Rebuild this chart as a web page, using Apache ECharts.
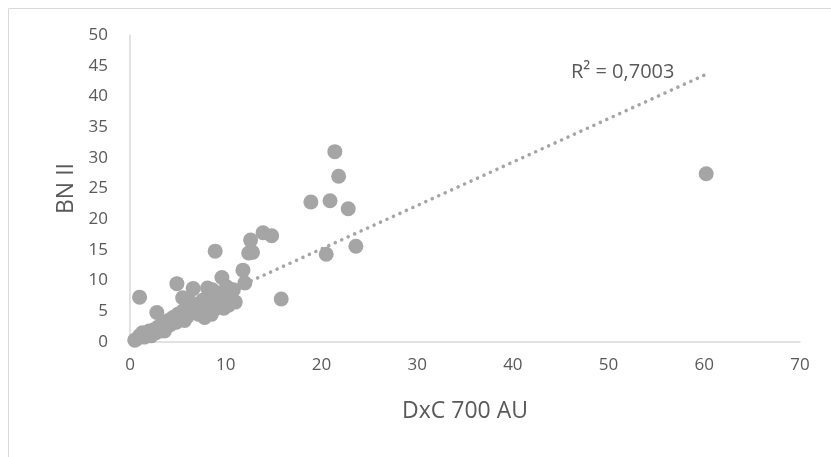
<!DOCTYPE html>
<html>
<head>
<meta charset="utf-8">
<script src="https://cdn.jsdelivr.net/npm/echarts@6/dist/echarts.min.js"></script>
<style>html,body{margin:0;padding:0;background:#fff;}#c{width:831px;height:457px;}</style>
</head>
<body>
<div id="c"></div>
<script>
var xValues = [0.5,0.8,1.0,1.3,1.5,1.8,2.0,2.2,2.5,2.7,3.0,3.2,3.5,3.8,4.0,4.2,4.5,4.8,5.0,5.3,5.5,5.7,6.0,6.2,6.5,6.8,7.0,7.2,7.5,7.8,8.0,8.2,8.5,8.7,9.0,9.2,9.5,9.8,10.0,10.3,10.6,10.8,11.0,
  1.0,2.8,4.9,5.5,6.6,8.1,8.6,9.6,10.1,11.8,12.0,8.9,12.4,12.8,12.6,13.9,14.8,15.8,18.9,20.5,20.9,21.4,21.8,22.8,23.6,60.2,
  7.6,9.4,10.5,6.3,3.6];
var yValues = [0.3,0.6,1.0,1.5,0.8,1.2,1.8,1.0,2.0,1.5,2.5,1.8,3.0,2.5,3.5,2.8,4.0,3.2,4.5,3.8,5.0,3.5,4.2,5.5,4.8,5.2,6.0,4.5,5.5,4.0,6.5,5.0,4.5,6.0,5.5,7.0,6.5,5.5,7.5,6.0,7.0,8.5,6.5,
  7.3,4.8,9.5,7.2,8.7,8.8,8.5,10.5,9.0,11.7,9.6,14.8,14.5,14.6,16.6,17.8,17.3,7.0,22.8,14.3,23.0,31.0,27.0,21.7,15.6,27.4,
  6.8,8.0,8.0,6.5,1.8];
var xTicks = [0,10,20,30,40,50,60,70];
var yTicks = [0,5,10,15,20,25,30,35,40,45,50];
var trendX = [0.5, 60.2];
var trendY = [1.35, 43.6];
var r2Label = 'R² = 0,7003';

var pts = xValues.map(function(x,i){return [x, yValues[i]];});
var trend = trendX.map(function(x,i){return [x, trendY[i]];});
var font = '"Open Sans", sans-serif';
var chart = echarts.init(document.getElementById('c'));
chart.setOption({
  animation:false,
  backgroundColor:'#fff',
  grid:{left:130,right:31,top:35,bottom:115},
  graphic:[
    {type:'rect',shape:{x:8.5,y:8.5,width:1000,height:1000},style:{fill:'none',stroke:'#d9d9d9',lineWidth:1},silent:true,z:-1},
    {type:'text',left:571,top:62,style:{text:r2Label,fontSize:20,fill:'#595959',fontFamily:font}}
  ],
  xAxis:{type:'value',min:xTicks[0],max:xTicks[xTicks.length-1],interval:10,
    axisLine:{lineStyle:{color:'#d9d9d9',width:1.5}},axisTick:{show:false},splitLine:{show:false},
    axisLabel:{color:'#595959',fontSize:17,fontFamily:font,margin:15},
    name:'DxC 700 AU',nameLocation:'middle',nameGap:58,nameTextStyle:{color:'#595959',fontSize:23,fontFamily:font}},
  yAxis:{type:'value',min:yTicks[0],max:yTicks[yTicks.length-1],interval:5,
    axisLine:{show:true,lineStyle:{color:'#d9d9d9',width:1.5}},axisTick:{show:false},splitLine:{show:false},
    axisLabel:{color:'#595959',fontSize:17,fontFamily:font,margin:22},
    name:'BN II',nameLocation:'middle',nameGap:24,nameTextStyle:{color:'#595959',fontSize:23,fontFamily:font}},
  series:[
    {type:'scatter',data:pts,symbolSize:15,itemStyle:{color:'#a5a5a5',opacity:1},z:2},
    {type:'line',data:trend,symbol:'none',z:3,lineStyle:{color:'#a5a5a5',width:3.5,type:[0.1,7],cap:'round'}}
  ]
});
</script>
</body>
</html>
